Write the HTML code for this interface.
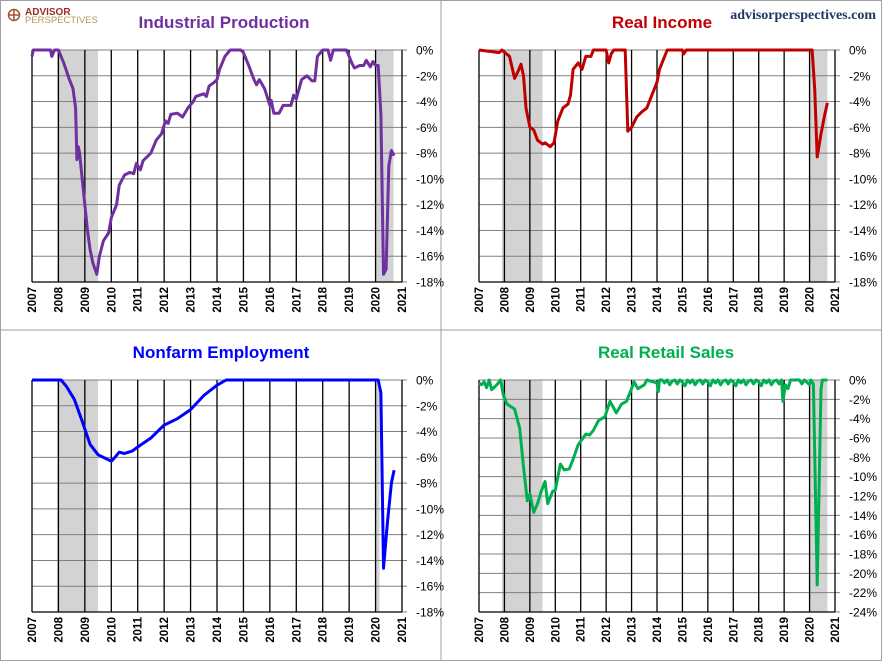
<!DOCTYPE html>
<html><head><meta charset="utf-8"><style>
body{margin:0;background:#fff;}
svg{display:block;font-family:"Liberation Sans",Arial,sans-serif;}
</style></head><body>
<svg id="s" width="882" height="661" xmlns="http://www.w3.org/2000/svg">
<rect x="0.5" y="0.5" width="881" height="660" fill="#fff" stroke="#a0a0a0"/>
<line x1="441" y1="0" x2="441" y2="661" stroke="#a0a0a0"/>
<line x1="0" y1="330" x2="882" y2="330" stroke="#a0a0a0"/>
<circle cx="14" cy="15" r="5.5" fill="none" stroke="#a0522d" stroke-width="1.5"/>
<line x1="8" y1="15" x2="20" y2="15" stroke="#a0522d" stroke-width="1.5"/>
<line x1="14" y1="9" x2="14" y2="21" stroke="#a0522d" stroke-width="1.5"/>
<text x="25" y="15" font-size="10" font-weight="bold" fill="#9b2d20">ADVISOR</text>
<text x="25" y="23" font-size="9.5" fill="#b8975a">PERSPECTIVES</text>
<text x="876" y="19" text-anchor="end" font-family="Liberation Serif,serif" font-size="14" font-weight="bold" fill="#1f3864">advisorperspectives.com</text>
</svg>
<script>
var s=document.getElementById('s'),NS='http://www.w3.org/2000/svg';
function el(t,a,txt){var e=document.createElementNS(NS,t);for(var k in a)e.setAttribute(k,a[k]);if(txt!==undefined)e.textContent=txt;s.appendChild(e);return e;}
function panel(o){
 var L=o.L,R=o.R,T=o.T,B=o.B,n=o.n,yw=(R-L)/14;
 function X(y){return L+(y-2007)*yw;} function Y(v){return T+(-v/2)*(B-T)/n;}
 el('text',{x:o.tx,y:o.ty,'text-anchor':'middle','font-size':17,'font-weight':'bold',fill:o.c},o.title);
 o.sh.forEach(function(r){el('rect',{x:X(r[0]),y:T,width:X(r[1])-X(r[0]),height:B-T,fill:'#d3d3d3'});});
 for(var i=0;i<=n;i++){var y=T+i*(B-T)/n;el('line',{x1:L,y1:y,x2:R+5,y2:y,stroke:'#808080','stroke-width':1});
  el('text',{x:R+14,y:y+4.5,'font-size':12,fill:'#000'},(i?'-':'')+(2*i)+'%');}
 for(var yr=2007;yr<=2021;yr++){var x=X(yr);el('line',{x1:x,y1:T,x2:x,y2:B,stroke:'#000','stroke-width':1.3});
  var t=el('text',{x:0,y:0,'font-size':11.5,'font-weight':'bold',fill:'#000','text-anchor':'end',transform:'translate('+(x+4)+','+(B+5)+') rotate(-90)'},String(yr));}
 el('line',{x1:L,y1:B,x2:R,y2:B,stroke:'#000','stroke-width':1.3});
 var p=o.d.map(function(q){return X(q[0]).toFixed(1)+','+Y(q[1]).toFixed(1);}).join(' ');
 el('polyline',{points:p,fill:'none',stroke:o.c,'stroke-width':3,'stroke-linejoin':'round'});
}
panel({L:32,R:402,T:50,B:282,n:9,c:'#7030a0',title:'Industrial Production',tx:224,ty:28,sh:[[2007.95,2009.5],[2020.0,2020.68]],
d:[[2007,-0.5],[2007.05,0],[2007.7,0],[2007.75,-0.5],[2007.85,0],[2008,0],[2008.2,-1],[2008.4,-2.2],[2008.55,-3],[2008.65,-4.5],[2008.7,-8.5],[2008.75,-7.5],[2008.8,-8],[2008.95,-11],[2009.1,-14],[2009.2,-15.5],[2009.3,-16.5],[2009.45,-17.4],[2009.55,-16],[2009.7,-14.8],[2009.9,-14.2],[2010,-13],[2010.2,-12],[2010.3,-10.5],[2010.5,-9.7],[2010.7,-9.5],[2010.85,-9.6],[2010.95,-8.8],[2011.1,-9.3],[2011.2,-8.6],[2011.5,-8],[2011.7,-7],[2011.9,-6.5],[2012.05,-5.5],[2012.15,-5.7],[2012.25,-5],[2012.5,-4.9],[2012.7,-5.2],[2012.9,-4.5],[2013.1,-4],[2013.2,-3.6],[2013.5,-3.4],[2013.6,-3.6],[2013.7,-2.8],[2013.9,-2.5],[2014,-2.3],[2014.1,-1.5],[2014.3,-0.5],[2014.5,0],[2014.9,0],[2015,-0.2],[2015.2,-1.2],[2015.4,-2.3],[2015.5,-2.7],[2015.6,-2.3],[2015.8,-3],[2016,-4.3],[2016.05,-3.9],[2016.15,-4.9],[2016.35,-4.9],[2016.5,-4.3],[2016.8,-4.3],[2016.9,-3.5],[2017,-3.8],[2017.2,-2.3],[2017.4,-2],[2017.6,-2.4],[2017.7,-2.4],[2017.8,-0.5],[2018,0],[2018.2,0],[2018.3,-0.8],[2018.4,0],[2018.9,0],[2019.1,-1],[2019.2,-1.4],[2019.4,-1.2],[2019.55,-1.2],[2019.65,-0.8],[2019.8,-1.3],[2019.9,-0.9],[2020,-1.2],[2020.1,-1.2],[2020.2,-5],[2020.3,-17.4],[2020.4,-17],[2020.5,-9],[2020.6,-7.8],[2020.7,-8.2]]});
panel({L:479,R:835,T:50,B:282,n:9,c:'#c00000',title:'Real Income',tx:662,ty:28,sh:[[2007.9,2009.5],[2020.0,2020.7]],
d:[[2007,0],[2007.8,-0.2],[2007.9,0],[2008.2,-0.5],[2008.4,-2.2],[2008.55,-1.6],[2008.65,-1.1],[2008.75,-2],[2008.85,-4.5],[2009,-6],[2009.15,-6.2],[2009.3,-7],[2009.5,-7.3],[2009.6,-7.2],[2009.8,-7.5],[2009.95,-7.2],[2010.1,-5.5],[2010.3,-4.5],[2010.5,-4.2],[2010.6,-3.5],[2010.7,-1.5],[2010.9,-1],[2011.05,-1.5],[2011.2,-0.5],[2011.4,-0.5],[2011.5,0],[2012,0],[2012.1,-1],[2012.2,-0.3],[2012.3,0],[2012.75,0],[2012.85,-6.3],[2013,-6],[2013.2,-5.2],[2013.4,-4.8],[2013.6,-4.5],[2013.8,-3.5],[2014,-2.5],[2014.1,-1.5],[2014.4,0],[2015,0],[2015.05,-0.3],[2015.15,0],[2020.1,0],[2020.2,-3],[2020.3,-8.3],[2020.45,-6.5],[2020.6,-5],[2020.7,-4.1]]});
panel({L:32,R:402,T:380,B:612,n:9,c:'#0000ff',title:'Nonfarm Employment',tx:221,ty:358,sh:[[2007.95,2009.5],[2020.0,2020.15]],
d:[[2007,0],[2008.1,0],[2008.3,-0.5],[2008.6,-1.5],[2008.9,-3.2],[2009.2,-5],[2009.5,-5.8],[2009.8,-6.1],[2010,-6.3],[2010.1,-6.1],[2010.3,-5.6],[2010.5,-5.7],[2010.8,-5.5],[2011,-5.2],[2011.5,-4.5],[2012,-3.5],[2012.5,-3],[2013,-2.3],[2013.5,-1.2],[2014,-0.4],[2014.35,0],[2020.1,0],[2020.2,-1],[2020.3,-14.6],[2020.45,-11],[2020.6,-8],[2020.7,-7]]});
var rs=[[2007,-0.3],[2007.1,-0.5],[2007.2,-0.2],[2007.3,-0.8],[2007.4,0],[2007.5,-1],[2007.7,-0.5],[2007.85,0],[2007.95,-1.5],[2008.1,-2.5],[2008.4,-3],[2008.6,-5],[2008.75,-9],[2008.9,-12.5],[2009,-11.8],[2009.15,-13.7],[2009.3,-12.8],[2009.45,-11.5],[2009.6,-10.5],[2009.7,-12.8],[2009.9,-11.5],[2010,-11.4],[2010.2,-8.7],[2010.35,-9.3],[2010.55,-9.2],[2010.7,-8.2],[2010.9,-6.7],[2011.2,-5.6],[2011.35,-5.7],[2011.5,-5.2],[2011.7,-4.2],[2011.95,-3.8],[2012.15,-2.2],[2012.4,-3.4],[2012.6,-2.5],[2012.8,-2.2],[2013,-0.9],[2013.1,-0.2],[2013.25,-0.9],[2013.5,-0.5],[2013.6,0],[2014,-0.3],[2014.05,-1.2],[2014.1,0]];
var v=[0,-0.3,0,-0.5,-0.1,0,-0.4,0,-0.2,-0.6];
for(var y=2014.2,i=0;y<2018.85;y+=0.1,i++)rs.push([y,v[i%10]]);
rs=rs.concat([[2018.9,0],[2018.95,-2.2],[2019.05,-0.5],[2019.15,-0.9],[2019.25,0],[2019.6,0],[2019.7,-0.4],[2019.8,0],[2020,-0.5],[2020.05,0],[2020.15,-0.4],[2020.3,-21.2],[2020.45,-1],[2020.5,0],[2020.7,0]]);
panel({L:479,R:835,T:380,B:612,n:12,c:'#00b050',title:'Real Retail Sales',tx:666,ty:358,sh:[[2007.9,2009.5],[2020.0,2020.7]],d:rs});
</script>
</body></html>
